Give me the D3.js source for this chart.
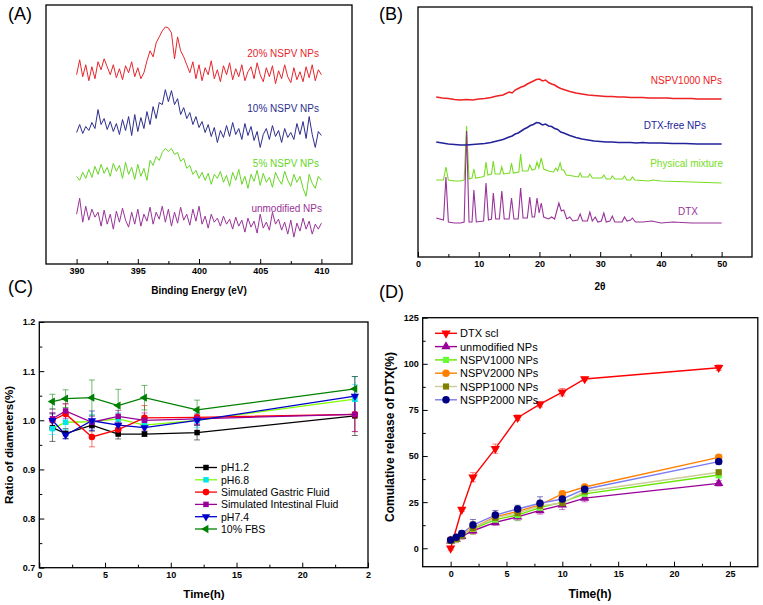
<!DOCTYPE html>
<html><head><meta charset="utf-8">
<script src="https://cdn.jsdelivr.net/npm/d3@7"></script>
<style>body{margin:0;background:#fff}svg{display:block}</style>
</head><body><script>
const FONT = '"Liberation Sans", Arial, sans-serif';

// ---------- Panel A data (XPS N1s, 390-410 eV, step 0.25) ----------
const aStart = 390, aStep = 0.25;
const aTicks = [390, 395, 400, 405, 410];
const aMinor = [392.5, 397.5, 402.5, 407.5];
const aNames = ["20% NSPV NPs", "10% NSPV NPs", "5% NSPV NPs", "unmodified NPs"];
const aColors = ["#e5262d", "#2d2e8c", "#66d624", "#993399"];
const a20 = [190,205,188,200,184,198,186,203,195,206,198,190,200,187,196,185,199,192,203,188,197,186,192,204,214,208,222,228,234,238,237,232,206,228,214,208,200,192,203,186,200,184,197,190,204,186,195,183,199,190,202,185,196,188,200,184,193,198,186,202,190,183,197,188,199,181,194,186,200,188,182,197,185,193,183,198,187,200,184,195,190];
const a10 = [132,140,131,138,134,142,136,155,140,146,135,143,133,141,130,145,134,148,129,150,133,147,136,153,140,158,146,162,160,175,163,174,160,166,150,157,146,152,140,148,137,143,132,140,128,137,122,134,127,139,128,142,130,136,125,141,129,138,124,133,117,130,136,125,139,128,134,122,136,127,132,125,141,130,143,126,148,130,117,133,129];
const a5 = [88,84,92,86,95,87,98,90,100,91,97,88,101,93,99,86,102,90,97,85,100,88,96,84,104,99,108,104,112,116,113,116,110,112,103,106,96,99,90,94,86,92,84,91,80,90,86,93,82,89,78,92,84,95,80,88,76,90,83,94,79,91,82,87,77,92,85,80,93,84,78,90,82,88,76,68,90,81,76,88,84];
const a0 = [50,66,42,58,44,55,47,52,38,54,40,50,35,53,42,56,44,37,52,40,55,38,50,43,57,40,52,45,58,42,55,38,52,41,57,44,50,39,55,43,58,40,48,36,50,42,46,38,48,40,45,35,47,38,44,32,46,37,43,31,50,36,42,34,52,40,45,34,42,30,44,27,41,33,46,35,43,30,40,35,41];
const aSeries = [a20, a10, a5, a0];

// ---------- Panel B data (XRD, [2theta, intensity]) ----------
const bTicks = [0, 10, 20, 30, 40, 50];
const bMinor = [5, 15, 25, 35, 45];
const bNames = ["NSPV1000 NPs", "DTX-free NPs", "Physical mixture", "DTX"];
const bColors = ["#ee2222", "#22229a", "#77dd22", "#993399"];
const bNSPV = [[3,160],[4,159],[5,158.5],[6,157.5],[7,157],[8,157.5],[9,157],[10,158],[11,158.5],[12,159.5],[13,161],[14,162],[15,165],[15.5,164],[16,167],[16.5,168.5],[17,170],[17.5,171],[18,173],[18.5,174.5],[19,176],[19.5,177.5],[20,178],[20.5,176],[21,177],[21.5,174.5],[22,173],[22.5,172],[23,170],[23.5,168.5],[24,167.5],[25,165.5],[26,164],[27,163],[28,162],[29,161.5],[30,161],[31,160.5],[32,160.5],[33,160],[34,160],[35,159.5],[36,159.5],[37,159.5],[38,159],[39,159],[40,159],[41,159],[42,158.5],[43,158.5],[44,158.5],[45,158.5],[46,158],[47,158],[48,158],[49,158],[50,158]];
const bFree = [[3,115],[4,114],[5,113],[6,112.5],[7,112],[8,112],[9,112.5],[10,113],[11,113.5],[12,114.5],[13,116],[14,117.5],[15,120],[15.5,121],[16,123],[16.5,124],[17,126],[17.5,128],[18,129.5],[18.5,131.5],[19,132.5],[19.5,134.5],[20,134],[20.5,132],[21,133],[21.5,131],[22,130.5],[22.5,128.5],[23,127.5],[23.5,125],[24,124],[25,121.5],[26,119.5],[27,118],[28,117],[29,116],[30,115.5],[31,115],[32,115],[33,114.5],[34,114.5],[35,114.5],[36,114],[37,114.5],[38,114],[39,114],[40,114],[42,113.5],[44,113.5],[46,113],[48,113],[50,113]];
const bMix = [[3,77],[4.2,77],[4.6,90],[5.0,77],[6,76],[7,76],[7.6,77],[8.0,131],[8.4,78],[8.9,79],[9.2,88],[9.5,79],[10.5,80],[10.9,81],[11.2,95],[11.5,82],[12.1,83],[12.4,96],[12.7,83],[13.5,83],[13.8,90],[14.1,83],[15.1,84],[15.4,94],[15.7,84],[16.6,85],[16.9,103],[17.2,86],[18.1,86],[18.4,92],[18.8,87],[19.3,88],[19.6,95],[19.9,89],[20.3,99],[20.7,88],[21.5,86],[22.3,85],[22.7,89],[23.0,86],[23.4,94],[23.7,87],[24.0,87],[24.4,82],[25.5,81],[26.4,80],[26.7,84],[27.0,80],[28.0,80],[28.3,83],[28.7,79],[30.3,79],[30.6,82],[31,78],[31.7,78],[32.0,81],[32.4,78],[33.7,78],[34.0,81],[34.4,77],[35,77],[35.3,80],[35.7,77],[38,76],[38.7,77],[40,76],[45,75],[50,74]];
const bDTX = [[3,39],[4.2,37],[4.6,80],[5.0,35],[6,34],[7,34],[7.6,35],[8.0,126],[8.4,35],[8.9,35],[9.2,67],[9.6,35],[10.8,36],[11.2,74],[11.6,37],[12.1,38],[12.4,64],[12.8,38],[13.4,38],[13.8,66],[14.2,38],[15.0,38],[15.4,59],[15.8,38],[16.5,38],[16.9,69],[17.3,39],[18.0,39],[18.4,60],[18.8,40],[19.2,40],[19.6,59],[19.95,44],[20.3,54],[20.7,40],[21.5,38],[22.0,40],[22.5,38],[23.2,54],[23.6,46],[24.0,47],[24.5,38],[25.0,40],[25.5,36],[26.3,37],[26.7,43],[27.1,36],[27.9,36],[28.3,45],[28.7,36],[29.2,40],[29.6,35],[30.2,36],[30.6,44],[31.0,35],[31.6,36],[32.0,41],[32.4,35],[33.6,35],[34.0,40],[34.4,36],[35.0,37],[35.3,39],[35.8,35],[37,35],[38.5,36],[40,34],[42,35],[45,34],[50,34]];
const bSeries = [bNSPV, bFree, bMix, bDTX];

// ---------- Panel C data (stability) ----------
const cTimes = [1, 2, 4, 6, 8, 12, 24];
const cNames = ["pH1.2", "pH6.8", "Simulated Gastric Fluid", "Simulated Intestinal Fluid", "pH7.4", "10% FBS"];
const cLineColors = ["#000000", "#80ff00", "#ff0000", "#990099", "#0000cc", "#008000"];
const cMarkColors = ["#000000", "#00e5ee", "#ff0000", "#990099", "#0000cc", "#008000"];
const cSymbols = ["square", "square", "circle", "square", "down", "left"];
const cPH12 = [0.985, 0.973, 0.990, 0.972, 0.972, 0.975, 1.009];
const cPH68 = [0.983, 0.996, 0.997, 1.003, 0.990, 1.000, 1.043];
const cSGF  = [1.000, 1.013, 0.966, 0.981, 1.005, 1.006, 1.012];
const cSIF  = [1.003, 1.019, 0.996, 1.008, 1.000, 1.003, 1.012];
const cPH74 = [1.000, 0.970, 0.999, 0.990, 0.985, 1.000, 1.049];
const cFBS  = [1.038, 1.044, 1.046, 1.030, 1.046, 1.021, 1.064];
const cErrPH12 = [0.028, 0.010, 0.012, 0.010, 0.005, 0.015, 0.040];
const cErrPH68 = [0.012, 0.015, 0.015, 0.012, 0.015, 0.015, 0.030];
const cErrSGF  = [0.015, 0.020, 0.020, 0.010, 0.025, 0.015, 0.035];
const cErrSIF  = [0.020, 0.015, 0.012, 0.012, 0.015, 0.010, 0.035];
const cErrPH74 = [0.015, 0.008, 0.020, 0.012, 0.012, 0.010, 0.040];
const cErrFBS  = [0.015, 0.018, 0.036, 0.033, 0.025, 0.020, 0.025];
const cSeries = [cPH12, cPH68, cSGF, cSIF, cPH74, cFBS];
const cErrors = [cErrPH12, cErrPH68, cErrSGF, cErrSIF, cErrPH74, cErrFBS];
const cXTicks = [0, 5, 10, 15, 20, 25];
const cXTickLabels = ["0", "5", "10", "15", "20", "2"];
const cYTicks = [0.7, 0.8, 0.9, 1.0, 1.1, 1.2];

// ---------- Panel D data (release) ----------
const dTimesSol = [0, 1, 2, 4, 6, 8, 10, 12, 24];
const dTimes = [0, 0.5, 1, 2, 4, 6, 8, 10, 12, 24];
const dNames = ["DTX scl", "unmodified NPs", "NSPV1000 NPs", "NSPV2000 NPs", "NSPP1000 NPs", "NSPP2000 NPs"];
const dLineColors = ["#ff0000", "#990099", "#66e600", "#ff8000", "#cccc99", "#7b7bf0"];
const dMarkColors = ["#ff0000", "#990099", "#66ff33", "#ff8000", "#808000", "#000080"];
const dSymbols = ["down", "up", "square", "circle", "square", "circle"];
const dSol      = [0, 21, 38.5, 54, 70.8, 78.1, 84.6, 91.8, 97.9];
const dUnmod    = [4, 5, 6.5, 9.5, 14, 17, 20.5, 23.5, 27.2, 35.2];
const dNSPV1000 = [4, 5, 7, 10.5, 15.5, 18, 22, 25, 29.5, 39.7];
const dNSPV2000 = [4.5, 5.5, 7.5, 11, 17, 20, 23.5, 29.5, 33.2, 49.3];
const dNSPP1000 = [4, 5, 7, 11, 16.5, 19, 23, 24.5, 30.8, 41.2];
const dNSPP2000 = [4.5, 6, 8, 12.6, 18, 21.3, 24.4, 26.7, 32, 47];
const dErrSol      = [1, 1, 2.5, 2.5, 1.5, 1.5, 2, 1, 1.5];
const dErrUnmod    = [1, 1, 1.5, 1.5, 1.5, 2, 2, 2.5, 2, 1.5];
const dErrNSPV1000 = [1, 1, 1.5, 1.5, 2, 3, 2, 2, 2, 2];
const dErrNSPV2000 = [1, 1, 1.5, 2, 2, 2, 2.5, 1.5, 1.5, 1.5];
const dErrNSPP1000 = [1, 2, 2, 3.5, 2, 2, 2, 2, 1.5, 1.5];
const dErrNSPP2000 = [1, 1, 1.5, 3, 2.5, 2, 3.5, 2, 1.5, 1.5];
const dSeries = [dSol, dUnmod, dNSPV1000, dNSPV2000, dNSPP1000, dNSPP2000];
const dErrors = [dErrSol, dErrUnmod, dErrNSPV1000, dErrNSPV2000, dErrNSPP1000, dErrNSPP2000];
const dXTicks = [0, 5, 10, 15, 20, 25];
const dYTicks = [0, 25, 50, 75, 100, 125];

// ---------- drawing ----------
const svg = d3.select("body").append("svg").attr("width", 763).attr("height", 605)
  .style("font-family", FONT);

function frame(x0, y0, x1, y1) {
  svg.append("rect").attr("x", x0).attr("y", y0).attr("width", x1 - x0).attr("height", y1 - y0)
    .attr("fill", "none").attr("stroke", "#000").attr("stroke-width", 1.3);
}
function styleAxis(a, fs) {
  a.attr("font-family", FONT).attr("font-size", fs).attr("font-weight", "bold");
  a.select(".domain").remove();
  a.selectAll("line").attr("stroke-width", 1);
}
function bottomAxis(x, y0, ticks, fmt, minor) {
  const a = svg.append("g").attr("transform", `translate(0,${y0})`)
    .call(d3.axisBottom(x).tickValues(ticks).tickFormat(fmt).tickSizeInner(-5).tickSizeOuter(0).tickPadding(4));
  styleAxis(a, 9);
  const m = svg.append("g").attr("transform", `translate(0,${y0})`)
    .call(d3.axisBottom(x).tickValues(minor).tickFormat("").tickSizeInner(-3).tickSizeOuter(0));
  styleAxis(m, 9);
}
function leftAxis(y, x0, ticks, fmt, minor) {
  const a = svg.append("g").attr("transform", `translate(${x0},0)`)
    .call(d3.axisLeft(y).tickValues(ticks).tickFormat(fmt).tickSizeInner(-5).tickSizeOuter(0).tickPadding(4));
  styleAxis(a, 9);
  const m = svg.append("g").attr("transform", `translate(${x0},0)`)
    .call(d3.axisLeft(y).tickValues(minor).tickFormat("").tickSizeInner(-3).tickSizeOuter(0));
  styleAxis(m, 9);
}
function symbolPath(kind, size) {
  const map = {square: d3.symbolSquare, circle: d3.symbolCircle, up: d3.symbolTriangle, down: d3.symbolTriangle, left: d3.symbolTriangle};
  return d3.symbol().type(map[kind]).size(size)();
}
function symbolRot(kind) { return kind === "down" ? 180 : kind === "left" ? -90 : 0; }
function label(txt, x, y, opts = {}) {
  const t = svg.append("text").attr("x", x).attr("y", y).text(txt)
    .attr("font-size", opts.fs || 10).attr("fill", opts.fill || "#000")
    .attr("text-anchor", opts.anchor || "start");
  if (opts.bold) t.attr("font-weight", "bold");
  if (opts.rot) t.attr("transform", `rotate(${opts.rot},${x},${y})`);
  return t;
}

// panel letters
label("(A)", 8, 20, {fs: 18});
label("(B)", 379, 20, {fs: 18});
label("(C)", 8, 293, {fs: 18});
label("(D)", 379, 298, {fs: 18});

// ===== Panel A =====
{
  const x = d3.scaleLinear().domain([387.5, 412.5]).range([46, 352]);
  const y = d3.scaleLinear().domain([0, 260]).range([264, 5]);
  const line = d3.line().x((d, i) => x(aStart + i * aStep)).y(d => y(d));
  aSeries.forEach((s, k) => {
    svg.append("path").attr("d", line(s)).attr("fill", "none").attr("stroke", aColors[k]).attr("stroke-width", 1);
  });
  frame(46, 5, 352, 264);
  bottomAxis(x, 264, aTicks, d3.format("d"), aMinor);
  label("Binding Energy (eV)", 199, 294, {fs: 10, bold: true, anchor: "middle"});
  const ly = [57, 112, 167, 212];
  const lx = [319, 319, 319, 322];
  aNames.forEach((n, k) => label(n, lx[k], ly[k], {fs: 10, fill: aColors[k], anchor: "end"}));
}

// ===== Panel B =====
{
  const x = d3.scaleLinear().domain([0, 55]).range([418, 752]);
  const y = d3.scaleLinear().domain([0, 250]).range([257, 7]);
  const line = d3.line().x(d => x(d[0])).y(d => y(d[1]));
  [2, 3, 1, 0].forEach(k => {
    svg.append("path").attr("d", line(bSeries[k])).attr("fill", "none").attr("stroke", bColors[k])
      .attr("stroke-width", k < 2 ? 1.5 : 1.1);
  });
  frame(418, 7, 752, 257);
  bottomAxis(x, 257, bTicks, d3.format("d"), bMinor);
  label("2θ", 600, 290, {fs: 10, bold: true, anchor: "middle"});
  const ly = [84, 129, 167, 215];
  const lx = [722, 706, 723, 698];
  bNames.forEach((n, k) => label(n, lx[k], ly[k], {fs: 10, fill: bColors[k], anchor: "end"}));
}

// ===== Panel C =====
{
  const x = d3.scaleLinear().domain([0, 25]).range([39.3, 368]);
  const y = d3.scaleLinear().domain([0.7, 1.2]).range([567.7, 322]);
  const line = d3.line().x((d, i) => x(cTimes[i])).y(d => y(d));
  cSeries.forEach((s, k) => {
    const g = svg.append("g");
    s.forEach((v, i) => {
      const e = cErrors[k][i], xx = x(cTimes[i]);
      g.append("path").attr("d", `M${xx},${y(v - e)}V${y(v + e)}M${xx - 3},${y(v - e)}h6M${xx - 3},${y(v + e)}h6`)
        .attr("stroke", cMarkColors[k]).attr("stroke-opacity", 0.55).attr("fill", "none").attr("stroke-width", 1);
    });
  });
  cSeries.forEach((s, k) => {
    svg.append("path").attr("d", line(s)).attr("fill", "none").attr("stroke", cLineColors[k]).attr("stroke-width", 1.3);
  });
  cSeries.forEach((s, k) => {
    s.forEach((v, i) => {
      svg.append("path").attr("d", symbolPath(cSymbols[k], cSymbols[k] === "circle" ? 34 : 30))
        .attr("transform", `translate(${x(cTimes[i])},${y(v)}) rotate(${symbolRot(cSymbols[k])})`)
        .attr("fill", cMarkColors[k]);
    });
  });
  frame(39.3, 322, 368, 567.7);
  bottomAxis(x, 567.7, cXTicks, (d, i) => cXTickLabels[i], [2.5, 7.5, 12.5, 17.5, 22.5]);
  leftAxis(y, 39.3, cYTicks, d3.format(".1f"), [0.75, 0.85, 0.95, 1.05, 1.15]);
  label("Time(h)", 204, 598, {fs: 11.5, bold: true, anchor: "middle"});
  label("Ratio of diameters(%)", 13, 445, {fs: 11.5, bold: true, anchor: "middle", rot: -90});
  // legend
  cNames.forEach((n, k) => {
    const ly = 467.5 + k * 12.3;
    svg.append("line").attr("x1", 195).attr("x2", 217).attr("y1", ly).attr("y2", ly)
      .attr("stroke", cLineColors[k]).attr("stroke-width", 1.3);
    svg.append("path").attr("d", symbolPath(cSymbols[k], cSymbols[k] === "circle" ? 34 : 30))
      .attr("transform", `translate(206,${ly}) rotate(${symbolRot(cSymbols[k])})`).attr("fill", cMarkColors[k]);
    label(n, 221, ly + 3.8, {fs: 10.5});
  });
}

// ===== Panel D =====
{
  const x = d3.scaleLinear().domain([-2.5, 27.5]).range([422.7, 757.8]);
  const y = d3.scaleLinear().domain([-10, 125]).range([566.7, 317.7]);
  const tOf = k => (k === 0 ? dTimesSol : dTimes);
  dSeries.forEach((s, k) => {
    const ts = tOf(k);
    s.forEach((v, i) => {
      const e = dErrors[k][i], xx = x(ts[i]);
      svg.append("path").attr("d", `M${xx},${y(v - e)}V${y(v + e)}M${xx - 3},${y(v - e)}h6M${xx - 3},${y(v + e)}h6`)
        .attr("stroke", dMarkColors[k]).attr("stroke-opacity", 0.5).attr("fill", "none").attr("stroke-width", 1);
    });
  });
  dSeries.forEach((s, k) => {
    const ts = tOf(k);
    const line = d3.line().x((d, i) => x(ts[i])).y(d => y(d));
    svg.append("path").attr("d", line(s)).attr("fill", "none").attr("stroke", dLineColors[k]).attr("stroke-width", 1.4);
  });
  dSeries.forEach((s, k) => {
    const ts = tOf(k);
    s.forEach((v, i) => {
      svg.append("path").attr("d", symbolPath(dSymbols[k], dSymbols[k] === "circle" ? 44 : 38))
        .attr("transform", `translate(${x(ts[i])},${y(v)}) rotate(${symbolRot(dSymbols[k])})`)
        .attr("fill", dMarkColors[k]);
    });
  });
  frame(422.7, 317.7, 757.8, 566.7);
  bottomAxis(x, 566.7, dXTicks, d3.format("d"), [2.5, 7.5, 12.5, 17.5, 22.5]);
  leftAxis(y, 422.7, dYTicks, d3.format("d"), [12.5, 37.5, 62.5, 87.5, 112.5]);
  label("Time(h)", 590, 598, {fs: 12, bold: true, anchor: "middle"});
  label("Comulative release of DTX(%)", 394, 437, {fs: 12, bold: true, anchor: "middle", rot: -90});
  dNames.forEach((n, k) => {
    const ly = 333.3 + k * 13.3;
    svg.append("line").attr("x1", 435).attr("x2", 457).attr("y1", ly).attr("y2", ly)
      .attr("stroke", dLineColors[k]).attr("stroke-width", 1.4);
    svg.append("path").attr("d", symbolPath(dSymbols[k], dSymbols[k] === "circle" ? 44 : 38))
      .attr("transform", `translate(446,${ly}) rotate(${symbolRot(dSymbols[k])})`).attr("fill", dMarkColors[k]);
    label(n, 460, ly + 4, {fs: 11});
  });
}
</script></body></html>
